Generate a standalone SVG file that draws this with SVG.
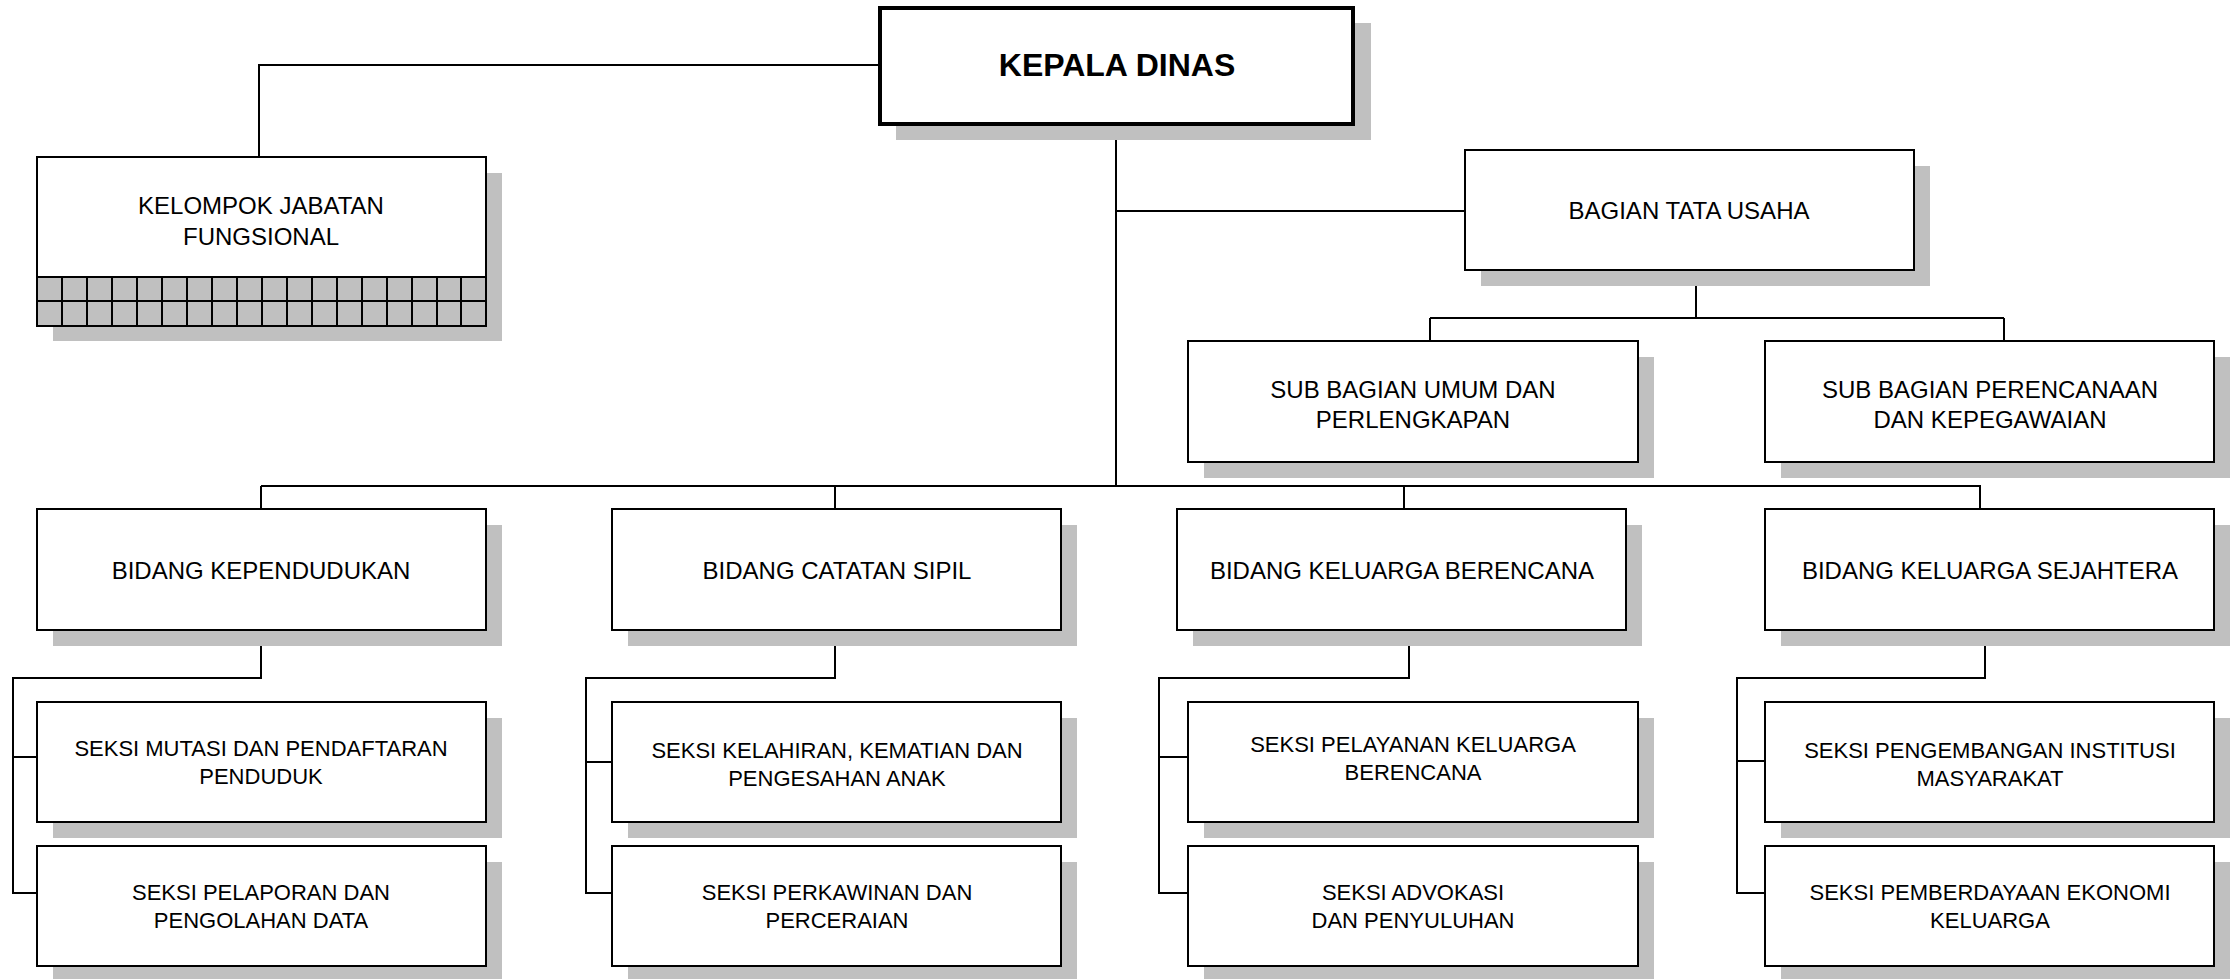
<svg xmlns="http://www.w3.org/2000/svg" width="2236" height="979" viewBox="0 0 2236 979">
<style>
.sh{fill:#c0c0c0}
.bx{fill:#fff;stroke:#000;stroke-width:2}
.bxk{fill:#fff;stroke:#000;stroke-width:4}
.t{font-family:"Liberation Sans",Arial,sans-serif;font-size:24px;fill:#000;text-anchor:middle}
.s{font-family:"Liberation Sans",Arial,sans-serif;font-size:22px;fill:#000;text-anchor:middle}
.b{font-family:"Liberation Sans",Arial,sans-serif;font-size:32px;font-weight:bold;fill:#000;text-anchor:middle}
.c{fill:none;stroke:#000;stroke-width:2}
.g{fill:#c0c0c0;stroke:#000;stroke-width:2}
</style>
<rect width="2236" height="979" fill="#fff"/>
<g id="connectors">
<path class="c" d="M880 65 H259 V161"/>
<path class="c" d="M1116 124 V486"/>
<path class="c" d="M1116 211 H1464"/>
<path class="c" d="M1696 270 V318 M1430 318 H2004 M1430 318 V341 M2004 318 V341"/>
<path class="c" d="M261 486 H1981 M261 486 V509 M835 486 V509 M1404 486 V509 M1980 486 V509"/>
<path class="c" d="M261 630 V678 H13 V893 H37 M13 757 H37"/>
<path class="c" d="M835 630 V678 H586 V893 H612 M586 762 H612"/>
<path class="c" d="M1409 630 V678 H1159 V893 H1188 M1159 757 H1192"/>
<path class="c" d="M1985 630 V678 H1737 V893 H1765 M1737 761 H1770"/>
</g>
<g id="kepala-dinas">
<rect class="sh" x="896" y="23" width="475" height="117"/>
<rect class="bxk" x="880" y="8" width="473" height="116"/>
<text class="b" x="1117" y="76">KEPALA DINAS</text>
</g>
<g id="kelompok-jabatan-fungsional">
<rect class="sh" x="53" y="173" width="449" height="168"/>
<rect class="bx" x="37" y="157" width="449" height="169"/>
<rect class="g" x="37" y="277" width="449" height="49"/>
<path class="c" d="M37 301 H486 M62 277 V326 M87 277 V326 M112 277 V326 M137 277 V326 M162 277 V326 M187 277 V326 M212 277 V326 M237 277 V326 M262 277 V326 M287 277 V326 M312 277 V326 M337 277 V326 M362 277 V326 M387 277 V326 M412 277 V326 M437 277 V326 M461 277 V326"/>
<text class="t" x="261" y="214">KELOMPOK JABATAN</text>
<text class="t" x="261" y="245">FUNGSIONAL</text>
</g>
<g id="bagian-tata-usaha">
<rect class="sh" x="1481" y="166" width="449" height="120"/>
<rect class="bx" x="1465" y="150" width="449" height="120"/>
<text class="t" x="1689" y="219">BAGIAN TATA USAHA</text>
</g>
<g id="sub-bagian-umum">
<rect class="sh" x="1204" y="357" width="450" height="121"/>
<rect class="bx" x="1188" y="341" width="450" height="121"/>
<text class="t" x="1413" y="398">SUB BAGIAN UMUM DAN</text>
<text class="t" x="1413" y="428">PERLENGKAPAN</text>
</g>
<g id="sub-bagian-perencanaan">
<rect class="sh" x="1781" y="357" width="449" height="121"/>
<rect class="bx" x="1765" y="341" width="449" height="121"/>
<text class="t" x="1990" y="398">SUB BAGIAN PERENCANAAN</text>
<text class="t" x="1990" y="428">DAN KEPEGAWAIAN</text>
</g>
<g id="bidang-kependudukan">
<rect class="sh" x="53" y="525" width="449" height="121"/>
<rect class="bx" x="37" y="509" width="449" height="121"/>
<text class="t" x="261" y="579">BIDANG KEPENDUDUKAN</text>
</g>
<g id="bidang-catatan-sipil">
<rect class="sh" x="628" y="525" width="449" height="121"/>
<rect class="bx" x="612" y="509" width="449" height="121"/>
<text class="t" x="837" y="579">BIDANG CATATAN SIPIL</text>
</g>
<g id="bidang-keluarga-berencana">
<rect class="sh" x="1193" y="525" width="449" height="121"/>
<rect class="bx" x="1177" y="509" width="449" height="121"/>
<text class="t" x="1402" y="579">BIDANG KELUARGA BERENCANA</text>
</g>
<g id="bidang-keluarga-sejahtera">
<rect class="sh" x="1781" y="525" width="449" height="121"/>
<rect class="bx" x="1765" y="509" width="449" height="121"/>
<text class="t" x="1990" y="579">BIDANG KELUARGA SEJAHTERA</text>
</g>
<g id="seksi-mutasi">
<rect class="sh" x="53" y="718" width="449" height="120"/>
<rect class="bx" x="37" y="702" width="449" height="120"/>
<text class="s" x="261" y="756">SEKSI MUTASI DAN PENDAFTARAN</text>
<text class="s" x="261" y="784">PENDUDUK</text>
</g>
<g id="seksi-pelaporan">
<rect class="sh" x="53" y="862" width="449" height="120"/>
<rect class="bx" x="37" y="846" width="449" height="120"/>
<text class="s" x="261" y="900">SEKSI PELAPORAN DAN</text>
<text class="s" x="261" y="928">PENGOLAHAN DATA</text>
</g>
<g id="seksi-kelahiran">
<rect class="sh" x="628" y="718" width="449" height="120"/>
<rect class="bx" x="612" y="702" width="449" height="120"/>
<text class="s" x="837" y="758">SEKSI KELAHIRAN, KEMATIAN DAN</text>
<text class="s" x="837" y="786">PENGESAHAN ANAK</text>
</g>
<g id="seksi-perkawinan">
<rect class="sh" x="628" y="862" width="449" height="120"/>
<rect class="bx" x="612" y="846" width="449" height="120"/>
<text class="s" x="837" y="900">SEKSI PERKAWINAN DAN</text>
<text class="s" x="837" y="928">PERCERAIAN</text>
</g>
<g id="seksi-pelayanan-kb">
<rect class="sh" x="1204" y="718" width="450" height="120"/>
<rect class="bx" x="1188" y="702" width="450" height="120"/>
<text class="s" x="1413" y="752">SEKSI PELAYANAN KELUARGA</text>
<text class="s" x="1413" y="780">BERENCANA</text>
</g>
<g id="seksi-advokasi">
<rect class="sh" x="1204" y="862" width="450" height="120"/>
<rect class="bx" x="1188" y="846" width="450" height="120"/>
<text class="s" x="1413" y="900">SEKSI ADVOKASI</text>
<text class="s" x="1413" y="928">DAN PENYULUHAN</text>
</g>
<g id="seksi-pengembangan">
<rect class="sh" x="1781" y="718" width="449" height="120"/>
<rect class="bx" x="1765" y="702" width="449" height="120"/>
<text class="s" x="1990" y="758">SEKSI PENGEMBANGAN INSTITUSI</text>
<text class="s" x="1990" y="786">MASYARAKAT</text>
</g>
<g id="seksi-pemberdayaan">
<rect class="sh" x="1781" y="862" width="449" height="120"/>
<rect class="bx" x="1765" y="846" width="449" height="120"/>
<text class="s" x="1990" y="900">SEKSI PEMBERDAYAAN EKONOMI</text>
<text class="s" x="1990" y="928">KELUARGA</text>
</g>
</svg>
